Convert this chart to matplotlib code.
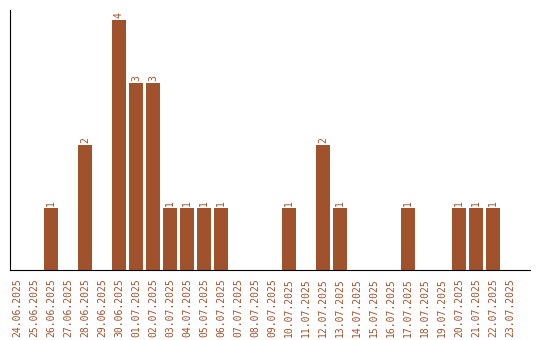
import matplotlib
matplotlib.use("Agg")
import matplotlib.pyplot as plt

dates = ["24.06.2025", "25.06.2025", "26.06.2025", "27.06.2025", "28.06.2025",
         "29.06.2025", "30.06.2025", "01.07.2025", "02.07.2025", "03.07.2025",
         "04.07.2025", "05.07.2025", "06.07.2025", "07.07.2025", "08.07.2025",
         "09.07.2025", "10.07.2025", "11.07.2025", "12.07.2025", "13.07.2025",
         "14.07.2025", "15.07.2025", "16.07.2025", "17.07.2025", "18.07.2025",
         "19.07.2025", "20.07.2025", "21.07.2025", "22.07.2025", "23.07.2025"]
counts = [0, 0, 1, 0, 2, 0, 4, 3, 3, 1, 1, 1, 1, 0, 0,
          0, 1, 0, 2, 1, 0, 0, 0, 1, 0, 0, 1, 1, 1, 0]

color = "#A0522D"

fig = plt.figure(figsize=(5.4, 3.4), dpi=100)
ax = fig.add_axes([10 / 540, 70 / 340, 520 / 540, 260 / 340])

x = list(range(len(dates)))
ax.bar(x, counts, width=0.82, color=color)

for xi, c in zip(x, counts):
    if c > 0:
        ax.text(xi, c + 0.03, str(c), rotation=90, ha="center", va="bottom",
                color=color, fontsize=7, family="DejaVu Sans Mono")

ax.set_xticks(x)
ax.set_xticklabels(dates, rotation=90, color=color, fontsize=7,
                   family="DejaVu Sans Mono")
ax.tick_params(axis="x", length=0, pad=6)
ax.set_yticks([])
ax.set_xlim(-0.41, 30.18)
ax.set_ylim(0, 4.16)
ax.spines["top"].set_visible(False)
ax.spines["right"].set_visible(False)

fig.savefig("out.png", dpi=100)
